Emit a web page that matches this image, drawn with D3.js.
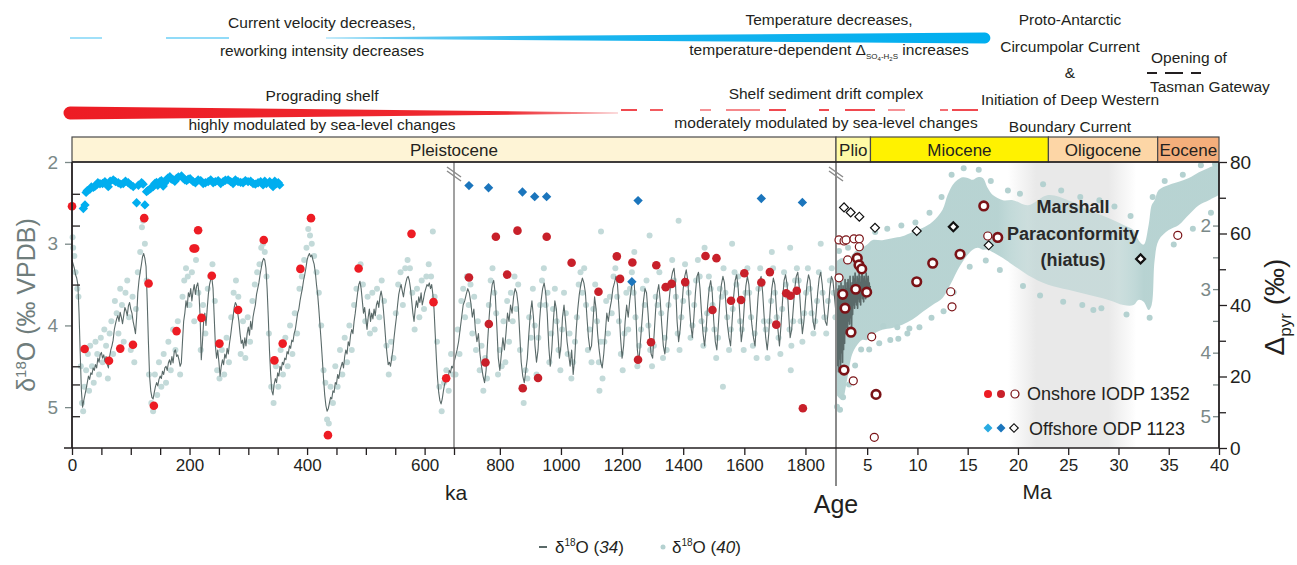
<!DOCTYPE html>
<html lang="en">
<head>
<meta charset="UTF-8">
<title>d18O and pyrite sulfur isotope record</title>
<script src="https://d3js.org/d3.v7.min.js"></script>
<style>
  body { margin: 0; background: #fff; }
  svg text { font-family: Arial, "Liberation Sans", Helvetica, sans-serif; }
</style>
</head>
<body>
<svg id="chart" width="1297" height="565"></svg>
<script>
// ---------- data ----------
// benthic d18O stack (34), 0-650 ka  [ka, permil]
const lineKaA = [[0,3.20],[2,3.25],[4,3.30],[6,3.38],[8,3.42],[10,3.50],[12,3.85],[14,4.35],[16,4.80],[18,5.00],[20,4.92],[22,4.85],[24,4.78],[26,4.70],[28,4.62],[30,4.66],[32,4.58],[34,4.60],[36,4.52],[38,4.55],[40,4.48],[42,4.52],[44,4.40],[46,4.45],[48,4.36],[50,4.33],[52,4.40],[54,4.36],[56,4.44],[58,4.38],[60,4.48],[62,4.52],[64,4.38],[66,4.30],[68,4.25],[70,4.18],[72,4.05],[74,3.98],[76,3.92],[78,3.88],[80,3.95],[82,3.84],[84,3.90],[86,3.98],[88,3.88],[90,3.78],[92,3.82],[94,3.88],[96,3.76],[98,3.72],[100,3.80],[102,3.85],[104,3.95],[106,4.02],[108,4.10],[110,3.90],[112,3.60],[114,3.45],[116,3.35],[118,3.26],[120,3.16],[122,3.12],[124,3.18],[126,3.28],[128,3.70],[130,4.20],[132,4.62],[134,4.80],[136,4.88],[138,4.90],[140,4.82],[142,4.75],[144,4.70],[146,4.74],[148,4.66],[150,4.62],[152,4.65],[154,4.56],[156,4.60],[158,4.52],[160,4.50],[162,4.55],[164,4.46],[166,4.42],[168,4.48],[170,4.38],[172,4.46],[174,4.32],[176,4.30],[178,4.38],[180,4.36],[182,4.42],[184,4.50],[186,4.46],[188,4.20],[190,3.95],[192,3.85],[194,3.70],[196,3.78],[198,3.60],[200,3.65],[202,3.55],[204,3.70],[206,3.58],[208,3.50],[210,3.62],[212,3.52],[214,3.48],[216,3.60],[218,3.90],[220,4.42],[222,4.20],[224,3.95],[226,3.85],[228,4.00],[230,3.80],[232,3.62],[234,3.50],[236,3.44],[238,3.42],[240,3.55],[242,3.90],[244,4.25],[246,4.40],[248,4.30],[250,4.45],[252,4.62],[254,4.50],[256,4.42],[258,4.48],[260,4.35],[262,4.40],[264,4.28],[266,4.35],[268,4.22],[270,4.12],[272,4.00],[274,3.90],[276,3.78],[278,3.72],[280,3.75],[282,3.85],[284,3.95],[286,4.10],[288,4.22],[290,4.18],[292,4.28],[294,4.15],[296,4.25],[298,4.10],[300,4.02],[302,4.12],[304,3.95],[306,4.05],[308,3.90],[310,3.82],[312,3.75],[314,3.62],[316,3.55],[318,3.48],[320,3.38],[322,3.30],[324,3.22],[326,3.18],[328,3.20],[330,3.30],[332,3.55],[334,3.90],[336,4.30],[338,4.60],[340,4.80],[342,4.85],[344,4.72],[346,4.65],[348,4.70],[350,4.58],[352,4.62],[354,4.50],[356,4.55],[358,4.45],[360,4.48],[362,4.40],[364,4.42],[366,4.32],[368,4.35],[370,4.25],[372,4.28],[374,4.18],[376,4.20],[378,4.10],[380,4.05],[382,3.95],[384,3.85],[386,3.80],[388,3.70],[390,3.62],[392,3.55],[394,3.45],[396,3.38],[398,3.30],[400,3.20],[402,3.15],[404,3.12],[406,3.16],[408,3.14],[410,3.20],[412,3.25],[414,3.35],[416,3.50],[418,3.62],[420,3.80],[422,4.00],[424,4.20],[426,4.42],[428,4.65],[430,4.85],[432,4.98],[434,5.05],[436,5.02],[438,4.95],[440,4.88],[442,4.90],[444,4.80],[446,4.82],[448,4.70],[450,4.72],[452,4.60],[454,4.65],[456,4.55],[458,4.50],[460,4.45],[462,4.52],[464,4.38],[466,4.30],[468,4.35],[470,4.20],[472,4.25],[474,4.12],[476,4.05],[478,4.10],[480,3.95],[482,3.85],[484,3.72],[486,3.60],[488,3.50],[490,3.46],[492,3.55],[494,3.70],[496,3.85],[498,3.78],[500,3.92],[502,4.05],[504,3.90],[506,3.80],[508,3.95],[510,3.85],[512,3.92],[514,3.80],[516,3.88],[518,3.75],[520,3.70],[522,3.78],[524,3.65],[526,3.58],[528,3.66],[530,3.82],[532,4.00],[534,4.20],[536,4.35],[538,4.48],[540,4.45],[542,4.50],[544,4.40],[546,4.30],[548,4.15],[550,4.02],[552,3.90],[554,3.75],[556,3.62],[558,3.55],[560,3.50],[562,3.58],[564,3.65],[566,3.55],[568,3.48],[570,3.42],[572,3.40],[574,3.45],[576,3.55],[578,3.70],[580,3.85],[582,3.95],[584,3.80],[586,3.70],[588,3.78],[590,3.65],[592,3.72],[594,3.60],[596,3.75],[598,3.68],[600,3.60],[602,3.55],[604,3.50],[606,3.52],[608,3.48],[610,3.55],[612,3.50],[614,3.62],[616,3.80],[618,4.10],[620,4.40],[622,4.65],[624,4.82],[626,4.92],[628,4.96],[630,4.90],[632,4.80],[634,4.72],[636,4.68],[638,4.60],[640,4.65],[642,4.55],[644,4.58],[646,4.50],[648,4.52],[650,4.45]];

// benthic d18O stack (34), 650-1900 ka
const lineKaB = [[650,4.45],[655,4.38],[660,4.30],[665,4.20],[670,4.05],[675,3.90],[680,3.75],[685,3.70],[690,3.62],[695,3.55],[700,3.60],[705,3.72],[710,3.90],[715,3.80],[720,4.05],[725,4.20],[730,4.10],[735,4.35],[740,4.50],[745,4.62],[750,4.70],[755,4.55],[760,4.20],[765,3.90],[770,3.65],[775,3.50],[780,3.45],[785,3.62],[790,4.00],[795,4.40],[800,4.55],[805,4.35],[810,4.15],[815,4.30],[820,4.10],[825,3.85],[830,3.95],[835,3.75],[840,3.85],[845,3.65],[850,3.55],[855,3.60],[860,3.75],[865,4.10],[870,4.45],[875,4.62],[880,4.70],[885,4.55],[890,4.40],[895,4.10],[900,3.85],[905,3.70],[910,3.90],[915,4.25],[920,4.45],[925,4.30],[930,3.95],[935,3.70],[940,3.55],[945,3.48],[950,3.60],[955,3.85],[960,4.25],[965,4.50],[970,4.30],[975,3.95],[980,3.70],[985,3.80],[990,4.10],[995,4.40],[1000,4.25],[1005,3.90],[1010,3.75],[1015,3.95],[1020,4.20],[1025,4.35],[1030,4.50],[1035,4.30],[1040,4.60],[1045,4.40],[1050,4.05],[1055,3.80],[1060,3.62],[1065,3.50],[1070,3.42],[1075,3.48],[1080,3.60],[1085,3.90],[1090,4.15],[1095,4.30],[1100,4.25],[1105,3.95],[1110,3.65],[1115,3.80],[1120,4.10],[1125,4.30],[1130,4.45],[1135,4.52],[1140,4.35],[1145,4.10],[1150,3.85],[1155,3.95],[1160,3.80],[1165,3.70],[1170,3.55],[1175,3.48],[1180,3.40],[1185,3.50],[1190,3.80],[1195,4.15],[1200,4.40],[1205,4.25],[1210,3.95],[1215,3.75],[1220,3.90],[1225,3.70],[1230,3.55],[1235,3.45],[1240,3.50],[1245,3.85],[1250,4.30],[1255,4.45],[1260,4.20],[1265,3.95],[1270,3.70],[1275,3.55],[1280,3.60],[1285,3.85],[1290,4.15],[1295,4.35],[1300,4.40],[1305,4.10],[1310,3.80],[1315,3.60],[1320,3.50],[1325,3.70],[1330,4.00],[1335,4.25],[1340,4.35],[1345,4.15],[1350,3.85],[1355,3.65],[1360,3.45],[1365,3.35],[1370,3.30],[1375,3.50],[1380,3.95],[1385,4.20],[1390,4.05],[1395,3.80],[1400,3.55],[1405,3.40],[1410,3.32],[1415,3.45],[1420,3.75],[1425,4.00],[1430,4.15],[1435,3.90],[1440,3.60],[1445,3.40],[1450,3.35],[1455,3.55],[1460,3.85],[1465,4.10],[1470,4.25],[1475,4.05],[1480,3.75],[1485,3.55],[1490,3.45],[1495,3.60],[1500,3.95],[1505,4.20],[1510,4.30],[1515,4.00],[1520,3.70],[1525,3.50],[1530,3.40],[1535,3.48],[1540,3.75],[1545,4.00],[1550,4.15],[1555,4.25],[1560,3.95],[1565,3.65],[1570,3.45],[1575,3.38],[1580,3.55],[1585,3.85],[1590,4.20],[1595,4.05],[1600,3.75],[1605,3.52],[1610,3.40],[1615,3.50],[1620,3.80],[1625,4.00],[1630,4.15],[1635,4.25],[1640,3.95],[1645,3.65],[1650,3.45],[1655,3.40],[1660,3.60],[1665,3.90],[1670,4.15],[1675,4.30],[1680,4.10],[1685,3.80],[1690,3.55],[1695,3.42],[1700,3.50],[1705,3.80],[1710,4.05],[1715,4.25],[1720,4.00],[1725,3.70],[1730,3.45],[1735,3.38],[1740,3.50],[1745,3.85],[1750,4.15],[1755,4.05],[1760,3.80],[1765,3.55],[1770,3.40],[1775,3.35],[1780,3.55],[1785,3.85],[1790,4.10],[1795,3.95],[1800,3.70],[1805,3.50],[1810,3.38],[1815,3.45],[1820,3.70],[1825,3.95],[1830,4.05],[1835,3.85],[1840,3.60],[1845,3.42],[1850,3.35],[1855,3.50],[1860,3.75],[1865,3.95],[1870,4.00],[1875,3.80],[1880,3.55],[1885,3.40],[1890,3.45],[1895,3.65],[1900,3.85]];

// stack (34) continued, 1.9-5.3 Ma, plotted on the Ma d18O scale
const lineMa = [[1.90,3.40],[1.95,4.05],[2.00,3.10],[2.05,4.20],[2.10,3.00],[2.15,4.30],[2.20,2.95],[2.25,4.10],[2.30,3.05],[2.35,4.25],[2.40,2.90],[2.45,4.00],[2.50,3.10],[2.55,4.15],[2.60,2.95],[2.65,3.95],[2.70,3.05],[2.75,3.85],[2.80,2.85],[2.85,3.70],[2.90,3.00],[2.95,3.60],[3.00,2.90],[3.05,3.65],[3.10,2.85],[3.15,3.50],[3.20,3.00],[3.25,3.55],[3.30,2.80],[3.35,3.45],[3.40,2.95],[3.45,3.60],[3.50,2.90],[3.55,3.40],[3.60,2.80],[3.65,3.25],[3.70,2.85],[3.75,3.30],[3.80,2.75],[3.85,3.20],[3.90,2.90],[3.95,3.25],[4.00,2.80],[4.05,3.30],[4.10,2.85],[4.15,3.15],[4.20,2.75],[4.25,3.20],[4.30,2.90],[4.35,3.25],[4.40,2.80],[4.45,3.10],[4.50,2.70],[4.55,3.15],[4.60,2.85],[4.65,3.20],[4.70,2.80],[4.75,3.10],[4.80,2.90],[4.85,3.15],[4.90,2.75],[4.95,3.05],[5.00,2.85],[5.05,3.10],[5.10,2.80],[5.15,3.00],[5.20,2.90],[5.25,3.05],[5.30,2.95]];

// d18O compilation (40), scattered samples 0-650 ka
const dotsKaA = [[1,2.92],[2,3.05],[4,3.15],[6,3.35],[9,3.55],[11,3.65],[15,4.5],[17,4.95],[19,5.05],[21,4.75],[24,4.55],[27,4.35],[29,4.8],[31,4.25],[34,4.5],[37,4.7],[40,4.2],[43,4.35],[46,4.6],[49,4.15],[52,4.45],[55,4.05],[58,4.25],[61,4.65],[64,4.1],[67,3.95],[70,4.35],[73,3.7],[76,3.85],[79,4.1],[82,3.55],[85,3.75],[88,4.2],[91,3.6],[94,3.45],[97,3.9],[100,4.3],[103,3.65],[106,4.45],[109,3.8],[112,3.35],[116,3.1],[119,2.8],[121,2.72],[124,3.0],[127,3.45],[131,4.6],[135,4.95],[138,5.05],[141,4.6],[145,4.85],[148,4.45],[152,4.75],[156,4.35],[160,4.7],[164,4.2],[168,4.55],[172,4.05],[176,4.3],[180,3.95],[184,4.6],[188,3.65],[191,3.45],[194,3.3],[197,3.4],[200,3.75],[204,3.35],[208,3.95],[211,3.2],[215,3.6],[219,4.3],[223,3.75],[227,4.1],[231,3.55],[235,3.4],[239,3.25],[243,3.7],[247,4.55],[251,4.65],[255,4.3],[259,4.6],[263,4.15],[267,4.45],[271,3.9],[275,3.6],[279,3.45],[283,3.65],[287,4.35],[291,3.95],[295,4.4],[299,3.9],[303,4.2],[307,3.7],[311,3.5],[315,3.35],[319,3.25],[322,3.05],[325,3.0],[328,3.1],[331,3.4],[335,4.1],[339,4.75],[343,4.95],[347,4.5],[351,4.75],[355,4.3],[359,4.6],[363,4.15],[367,4.5],[371,4.0],[375,4.35],[379,3.85],[383,4.1],[387,3.55],[391,3.4],[395,3.2],[399,3.05],[402,2.82],[405,2.9],[408,3.0],[412,3.15],[416,3.35],[420,3.6],[424,4.0],[428,4.55],[431,4.7],[434,5.15],[437,5.2],[440,4.75],[444,4.95],[448,4.5],[452,4.75],[456,4.3],[460,4.6],[464,4.15],[468,4.45],[472,4.0],[476,4.3],[480,3.75],[484,3.55],[488,3.3],[491,3.25],[495,3.5],[499,3.95],[503,3.65],[507,4.1],[511,3.6],[515,4.05],[519,3.55],[523,3.9],[527,3.45],[531,3.7],[535,4.25],[539,4.6],[543,4.2],[547,4.4],[551,3.85],[555,3.5],[559,3.35],[563,3.75],[567,3.3],[571,3.2],[575,3.3],[579,3.6],[583,4.05],[587,3.55],[591,3.9],[595,3.45],[599,3.8],[603,3.4],[607,3.25],[611,3.4],[614,2.85],[617,3.65],[621,4.2],[625,4.75],[629,5.05],[633,4.7],[637,4.55],[641,4.8],[645,4.35],[649,4.6]];

// d18O compilation (40), 650-1900 ka
const dotsKaB = [[655,4.6],[662,4.05],[668,4.35],[674,3.7],[680,3.55],[686,3.9],[692,3.4],[698,3.75],[704,3.5],[710,4.1],[716,3.65],[722,4.3],[728,3.95],[734,4.55],[740,4.25],[746,4.8],[752,4.4],[758,4.65],[764,3.75],[770,3.45],[776,3.3],[782,3.6],[788,3.85],[794,4.6],[800,4.3],[806,4.5],[812,3.95],[818,4.45],[824,3.7],[830,4.2],[836,3.6],[842,3.95],[848,3.4],[854,3.8],[860,3.5],[866,4.3],[872,4.75],[878,4.95],[884,4.55],[890,4.65],[896,3.9],[902,4.15],[908,3.55],[914,4.0],[920,4.6],[926,4.15],[932,3.75],[938,3.45],[944,3.3],[950,3.75],[956,3.6],[962,4.45],[968,4.1],[974,3.8],[980,3.55],[986,3.95],[992,4.3],[998,4.55],[1004,4.05],[1010,3.6],[1016,3.85],[1022,4.35],[1028,4.1],[1034,4.65],[1040,4.45],[1046,4.2],[1052,3.9],[1058,3.5],[1064,3.35],[1070,3.6],[1076,3.3],[1082,3.75],[1088,4.3],[1094,4.05],[1100,4.45],[1106,3.8],[1112,3.5],[1118,3.95],[1124,4.45],[1126,4.8],[1130,4.2],[1131,2.85],[1136,4.65],[1142,4.2],[1148,3.7],[1154,4.1],[1160,3.65],[1166,3.85],[1172,3.4],[1178,3.3],[1184,3.65],[1190,3.95],[1196,4.35],[1202,4.55],[1208,4.1],[1214,3.6],[1220,4.05],[1226,3.55],[1232,3.35],[1238,3.6],[1240,3.1],[1244,3.9],[1250,4.5],[1256,4.25],[1262,4.05],[1268,3.55],[1274,3.75],[1280,3.45],[1286,4.0],[1290,2.9],[1292,4.3],[1298,4.5],[1304,4.25],[1310,3.65],[1316,3.75],[1322,3.35],[1328,3.85],[1334,4.4],[1340,4.15],[1346,4.3],[1352,3.75],[1358,3.5],[1364,3.2],[1370,3.45],[1376,3.65],[1382,4.1],[1385,2.72],[1388,4.3],[1394,3.9],[1400,3.7],[1406,3.25],[1412,3.5],[1418,3.6],[1424,4.15],[1430,4.0],[1436,3.75],[1442,3.45],[1448,3.2],[1454,3.4],[1460,3.95],[1466,4.25],[1470,3.05],[1472,4.05],[1478,3.85],[1484,3.4],[1490,3.55],[1496,3.75],[1502,4.05],[1508,4.4],[1514,4.15],[1520,3.55],[1526,3.65],[1530,4.75],[1532,3.3],[1538,3.6],[1544,3.9],[1550,4.3],[1556,4.05],[1560,3.0],[1562,3.8],[1568,3.35],[1574,3.5],[1580,3.4],[1586,3.95],[1592,4.05],[1598,4.3],[1604,3.6],[1610,3.3],[1616,3.6],[1622,3.9],[1628,4.25],[1634,4.1],[1640,4.4],[1646,3.55],[1652,3.3],[1658,3.5],[1664,3.95],[1670,4.05],[1676,4.4],[1682,3.95],[1688,3.7],[1690,3.1],[1694,3.3],[1700,3.6],[1706,3.9],[1712,4.15],[1718,4.35],[1724,3.8],[1730,3.35],[1736,3.5],[1742,3.65],[1748,4.05],[1750,3.05],[1752,4.55],[1754,4.25],[1760,3.95],[1766,3.45],[1772,3.3],[1778,3.45],[1784,3.95],[1790,4.2],[1796,3.85],[1802,3.6],[1808,3.3],[1814,3.55],[1820,3.85],[1826,4.1],[1832,3.95],[1838,3.7],[1844,3.35],[1850,3.0],[1856,3.6],[1862,3.9],[1868,4.1],[1874,3.7],[1880,3.45],[1886,3.3],[1892,3.6],[1898,3.9]];

// d18O compilation (40), 1.9-40 Ma: envelope of the dense cloud [Ma, upper, lower]
const cloudMa = [[1.9,2.57,4.66],[2.5,2.51,4.74],[3.0,2.57,4.43],[3.5,2.46,4.03],[4.0,2.38,3.88],[4.5,2.35,3.80],[5.0,2.30,3.80],[5.5,2.23,3.72],[6.5,2.23,3.64],[7.5,2.20,3.61],[8.5,2.17,3.56],[9.5,2.10,3.48],[10.5,2.04,3.36],[11.5,1.94,3.25],[12.5,1.75,3.14],[13.0,1.52,3.01],[13.5,1.36,2.86],[14.0,1.28,2.70],[14.5,1.24,2.57],[15.0,1.25,2.46],[15.5,1.28,2.38],[16.0,1.24,2.35],[16.5,1.25,2.38],[17.0,1.41,2.38],[17.5,1.52,2.42],[18.5,1.60,2.51],[19.5,1.60,2.62],[21.0,1.68,2.78],[23.0,1.52,2.93],[25.0,1.60,3.01],[27.0,1.75,3.09],[29.0,1.88,3.17],[30.5,1.99,3.25],[31.5,2.07,3.25],[32.0,2.23,3.17],[32.5,2.30,3.20],[33.0,1.99,3.33],[33.3,1.68,3.25],[33.6,1.60,2.54],[34.0,1.44,2.23],[35.0,1.36,2.07],[36.0,1.31,1.99],[37.0,1.25,1.83],[38.0,1.16,1.68],[39.0,1.09,1.60],[40.0,1.02,1.52]];
// loose samples around the cloud edges [Ma, permil]
const dotsMa = [[2.0,4.85],[2.3,4.9],[2.6,4.7],[3.2,4.5],[3.8,4.2],[4.4,3.95],[5.2,3.95],[6.2,3.85],[7.3,3.8],[8.1,3.78],[9.0,3.7],[10.2,3.6],[11.4,3.45],[12.6,3.35],[13.6,3.05],[15.2,2.65],[16.8,2.55],[18.2,2.7],[20.5,2.95],[22.2,3.1],[24.5,3.2],[26.4,3.25],[28.3,3.3],[30.8,3.4],[33.1,3.45],[35.5,2.3],[37.4,2.05],[39.2,1.8],[2.2,2.4],[3.1,2.35],[4.3,2.2],[5.8,2.1],[7.0,2.05],[8.4,2.0],[9.8,1.95],[11.2,1.8],[12.4,1.55],[13.4,1.2],[14.6,1.1],[16.1,1.12],[17.3,1.3],[19.0,1.45],[20.2,1.5],[22.5,1.35],[24.3,1.45],[26.2,1.55],[28.1,1.6],[29.6,1.7],[31.2,1.85],[33.4,1.55],[34.6,1.3],[36.4,1.2],[38.2,1.05],[39.6,1.03],[8.0,3.6],[9.2,3.62],[6.6,3.58],[27.5,3.33]];

// Onshore IODP 1352 pyrite D (permil)
const redKaA = [[0,67.6],[21.5,27.7],[62.9,24.4],[82.1,27.8],[103.7,28.9],[122.9,64.3],[130.3,46.0],[139.3,11.8],[177.9,32.7],[206.8,55.8],[209.6,55.8],[214.6,60.9],[220.3,36.4],[237.9,48.2],[250.9,29.2],[282.6,38.6],[326.3,58.2],[344.4,24.5],[358.5,29.2],[388.6,50.1],[406.7,64.3],[435.5,3.6],[487.7,50.2],[577.7,59.9],[615.1,40.8],[636.7,19.5]];
const redKaB = [[699,47.7],[753,23.9],[764,34.7],[787,59.1],[824,48.5],[857.7,60.8],[875,16.7],[925,19.6],[953.3,59.1],[1034.8,51.8],[1122.8,43.7],[1182.8,53.6],[1193.5,47.3],[1233.7,51.9],[1252.2,24.7],[1294.6,29.6],[1312,51.1],[1342.6,45],[1362.1,45.9],[1406.5,46.4],[1473,53.7],[1495.8,38.6],[1508.8,53.1],[1556.5,41.2],[1589.1,41.4],[1600,48.9],[1655.6,46.3],[1683.6,49.2],[1704.5,34.5],[1737,43.3],[1751,42.6],[1771.7,44],[1791.6,11.1]];
// [Ma, permil, bold ring]
const circMa = [[2.20,58.2,0],[2.70,57.9,0],[2.90,58.2,0],[3.69,58.5,0],[4.22,58.5,0],[4.22,56.3,0],[3.06,52.6,0],[4.02,53.1,1],[4.19,51.2,1],[4.46,50.1,1],[2.20,47.6,0],[2.57,43.0,1],[3.86,44.4,1],[4.95,43.6,1],[2.80,39.1,1],[3.39,32.4,1],[5.45,31.1,0],[2.70,21.8,1],[3.62,18.8,0],[5.88,15.0,1],[5.71,3.0,0],[9.93,46.5,1],[11.52,51.7,1],[14.24,54.2,1],[13.31,43.7,0],[13.44,39.5,0],[16.60,67.7,1],[17.0,59.3,0],[17.99,58.9,1],[35.9,59.5,0]];

// Offshore ODP 1123 pyrite D (permil)
const diaKaA = [[19.3,67.0],[22.1,68.0],[24,71.5],[26,72.0],[30.6,72.4],[33,73.0],[36.3,72.9],[39,73.2],[41.9,73.6],[44,74.2],[47.6,73.9],[52,74.0],[56,74.5],[61.7,73.1],[65,74.6],[70.2,75.0],[74,74.5],[78.7,74.2],[83,73.8],[87.2,74.0],[91,74.6],[95.7,74.2],[100,73.6],[104.2,73.1],[109.9,68.6],[113,73.5],[118.4,74.2],[121,73.8],[124,68.0],[126.9,71.7],[129,72.0],[132.5,72.4],[135,72.8],[138.2,73.1],[141,74.0],[143.8,74.3],[146,73.5],[149.5,74.5],[152,74.8],[155.2,73.3],[158,74.2],[160.9,75.0],[163,75.5],[166.5,75.9],[169,75.2],[172.2,75.0],[175,74.6],[177.8,75.4],[181,75.8],[186.3,76.1],[189,75.5],[192,75.0],[195,74.8],[197.7,75.2],[201,75.3],[206.2,74.5],[210,74.2],[214.7,75.0],[219,74.8],[223.2,74.0],[227,74.2],[231.7,74.5],[236,75.0],[240.2,74.2],[244,74.5],[248.7,74.8],[253,74.0],[257.2,74.5],[261,74.9],[265.7,75.0],[270,74.5],[274.1,74.0],[278,75.0],[282.6,74.5],[287,74.3],[291.1,74.2],[295,74.8],[299.6,74.5],[304,74.6],[308.1,74.0],[312,73.8],[316.6,74.2],[321,74.5],[325.1,73.6],[328,74.6],[330.8,74.0],[336.4,74.5],[339,73.8],[342.1,73.1],[345,74.6],[347.8,74.0],[351,74.2],[353.4,73.6]];
const diaKaB = [[699,73.4],[763,72.8],[874,71.6],[914,70.3],[953,70.3],[1232,46.5],[1252.3,69.2],[1655.6,69.8],[1790,68.7]];
const diaMa = [[2.70,67.3,0],[3.36,65.9,0],[4.22,64.7,0],[5.78,61.6,0],[9.93,60.7,0],[13.57,61.9,1],[17.09,56.7,0],[32.2,52.9,1]];

// epochs (Ma) and axis ticks
const epochNames = ["Pleistocene", "Plio", "Miocene", "Oligocene", "Eocene"];
const epochEdges = [0, 1.9, 5.33, 23.03, 33.9, 40];
const epochColors = ["#fef4d6", "#fffaa6", "#fff200", "#fdd6a6", "#f4ae7b"];
const hiatusMa = [19, 31.8];
const kaTicksA = [0, 50, 100, 150, 200, 250, 300, 350, 400, 450, 500, 550, 600, 650];
const kaLabelsA = [0, 200, 400, 600];
const kaTicksB = [800, 1000, 1200, 1400, 1600, 1800];
const maTicks = [5, 10, 15, 20, 25, 30, 35, 40];
const d18Ticks = [2, 3, 4, 5];
const d18MinorMa = [2.5, 3.5, 4.5];
const pyrTicks = [0, 20, 40, 60, 80];
const pyrMinor = [10, 30, 50, 70];

// ---------- scales ----------
const svg = d3.select("#chart");
const INK = "#231f20", GREY = "#7b8988", LINE = "#5a6a69", TEAL = "#b4d1d0";

const xKa1 = d3.scaleLinear().domain([0, 650]).range([72, 454]);
const xKa2 = d3.scaleLinear().domain([650, 1900]).range([454, 836]);
const xMa = d3.scaleLinear().domain([1.9, 40]).range([836, 1219]);
const yKa = d3.scaleLinear().domain([2, 5.5]).range([162, 448]);
const yMa = d3.scaleLinear().domain([1, 5.5]).range([162, 448]);
const yPyr = d3.scaleLinear().domain([0, 80]).range([448, 162]);
const ageX = ma => ma * 1000 <= 650 ? xKa1(ma * 1000) : (ma <= 1.9 ? xKa2(ma * 1000) : xMa(ma));
const plain = d => String(d);

// ---------- defs ----------
const defs = svg.append("defs");
const hg = defs.append("linearGradient").attr("id", "hiatus")
  .attr("gradientUnits", "userSpaceOnUse")
  .attr("x1", xMa(hiatusMa[0])).attr("x2", xMa(hiatusMa[1])).attr("y1", 0).attr("y2", 0);
[[0, 0], [0.22, 1], [0.78, 1], [1, 0]].forEach(([o, a]) =>
  hg.append("stop").attr("offset", o).attr("stop-color", "#e9e9e9").attr("stop-opacity", a));
// cloud is thinner inside the hiatus
const cg = defs.append("linearGradient").attr("id", "cloud")
  .attr("gradientUnits", "userSpaceOnUse")
  .attr("x1", xMa(1.9)).attr("x2", xMa(40)).attr("y1", 0).attr("y2", 0);
[[1.9, 0.95], [18, 0.95], [21, 0.6], [30, 0.6], [32.5, 0.95], [40, 0.95]].forEach(([m, a]) =>
  cg.append("stop").attr("offset", (m - 1.9) / 38.1).attr("stop-color", TEAL).attr("stop-opacity", a));
const rg = defs.append("linearGradient").attr("id", "redw").attr("x1", 0).attr("x2", 1).attr("y1", 0).attr("y2", 0);
[[0, "#ed1c24"], [0.8, "#ee2a31"], [1, "#f8b9bb"]].forEach(([o, c]) => rg.append("stop").attr("offset", o).attr("stop-color", c));
const bg = defs.append("linearGradient").attr("id", "bluew").attr("x1", 0).attr("x2", 1).attr("y1", 0).attr("y2", 0);
[[0, "#8fd8f5"], [0.35, "#1db5ee"], [1, "#00aeef"]].forEach(([o, c]) => bg.append("stop").attr("offset", o).attr("stop-color", c));

// ---------- hiatus band ----------
svg.append("rect").attr("x", xMa(hiatusMa[0])).attr("y", 162)
  .attr("width", xMa(hiatusMa[1]) - xMa(hiatusMa[0])).attr("height", 286).attr("fill", "url(#hiatus)");

// ---------- d18O compilation (40) ----------
svg.append("path").datum(cloudMa)
  .attr("d", d3.area().x(d => xMa(d[0])).y0(d => yMa(d[2])).y1(d => yMa(d[1])).curve(d3.curveCatmullRom))
  .attr("fill", "url(#cloud)");
const dots = svg.append("g").attr("fill", "#c3dad9");
dots.selectAll(".da").data(dotsKaA).join("circle").attr("class", "da").attr("cx", d => xKa1(d[0])).attr("cy", d => yKa(d[1])).attr("r", 3);
dots.selectAll(".db").data(dotsKaB).join("circle").attr("class", "db").attr("cx", d => xKa2(d[0])).attr("cy", d => yKa(d[1])).attr("r", 3);
svg.append("g").attr("fill", TEAL).selectAll("circle").data(dotsMa).join("circle")
  .attr("cx", d => xMa(d[0])).attr("cy", d => yMa(d[1])).attr("r", 3);

// ---------- d18O stack (34) ----------
const lines = svg.append("g").attr("fill", "none").attr("stroke", LINE).attr("stroke-width", 1.1).attr("stroke-linejoin", "round");
lines.append("path").datum(lineKaA).attr("d", d3.line().x(d => xKa1(d[0])).y(d => yKa(d[1])));
lines.append("path").datum(lineKaB).attr("d", d3.line().x(d => xKa2(d[0])).y(d => yKa(d[1])));
lines.append("path").datum(lineMa).attr("d", d3.line().x(d => xMa(d[0])).y(d => yMa(d[1]))).attr("stroke-width", 1.7);

// ---------- axis breaks ----------
svg.append("line").attr("x1", 454).attr("x2", 454).attr("y1", 162).attr("y2", 448).attr("stroke", "#8a8a8a").attr("stroke-width", 1.6);
svg.append("line").attr("x1", 836).attr("x2", 836).attr("y1", 162).attr("y2", 486).attr("stroke", "#8a8a8a").attr("stroke-width", 2);
[454, 836].forEach(x => {
  [0, 4].forEach(o => svg.append("line").attr("x1", x - 7).attr("y1", 167 + o).attr("x2", x + 7).attr("y2", 177 + o)
    .attr("stroke", "#8a8a8a").attr("stroke-width", 1.5));
});

// ---------- pyrite symbols ----------
const sq = d3.symbol(d3.symbolSquare, 44);
const sym = svg.append("g");
sym.selectAll(".la").data(diaKaA).join("path").attr("class", "la").attr("d", sq)
  .attr("transform", d => `translate(${xKa1(d[0])},${yPyr(d[1])}) rotate(45)`).attr("fill", "#00aeef");
sym.selectAll(".lb").data(diaKaB).join("path").attr("class", "lb").attr("d", sq)
  .attr("transform", d => `translate(${xKa2(d[0])},${yPyr(d[1])}) rotate(45)`).attr("fill", "#1b75bc");
sym.selectAll(".lm").data(diaMa).join("path").attr("class", "lm").attr("d", d3.symbol(d3.symbolSquare, 40))
  .attr("transform", d => `translate(${xMa(d[0])},${yPyr(d[1])}) rotate(45)`)
  .attr("fill", "#fff").attr("stroke", "#111").attr("stroke-width", d => d[2] ? 2.2 : 1.2);
sym.selectAll(".ra").data(redKaA).join("circle").attr("class", "ra")
  .attr("cx", d => xKa1(d[0])).attr("cy", d => yPyr(d[1])).attr("r", 4.3).attr("fill", "#ed1c24");
sym.selectAll(".rb").data(redKaB).join("circle").attr("class", "rb")
  .attr("cx", d => xKa2(d[0])).attr("cy", d => yPyr(d[1])).attr("r", 4.3).attr("fill", "#c8202a");
sym.selectAll(".rm").data(circMa).join("circle").attr("class", "rm")
  .attr("cx", d => xMa(d[0])).attr("cy", d => yPyr(d[1])).attr("r", d => d[2] ? 4.3 : 4)
  .attr("fill", "#fff").attr("stroke", "#7a1216").attr("stroke-width", d => d[2] ? 2.6 : 1.2);

// ---------- axes ----------
function styleAxis(g, color, size) {
  g.select(".domain").remove();
  g.attr("font-size", size).attr("font-family", null);
  g.selectAll("line").attr("stroke", color).attr("stroke-width", 1.3);
  g.selectAll("text").attr("fill", color);
}
svg.append("g").attr("transform", "translate(0,448)")
  .call(d3.axisBottom(xKa1).tickValues(kaTicksA).tickSize(7).tickPadding(4).tickFormat(d => kaLabelsA.includes(d) ? plain(d) : ""))
  .call(g => styleAxis(g, INK, 17));
svg.append("g").attr("transform", "translate(0,448)")
  .call(d3.axisBottom(xKa2).tickValues(kaTicksB).tickSize(7).tickPadding(4).tickFormat(plain))
  .call(g => styleAxis(g, INK, 17));
svg.append("g").attr("transform", "translate(0,448)")
  .call(d3.axisBottom(xMa).tickValues(maTicks).tickSize(7).tickPadding(4).tickFormat(plain))
  .call(g => styleAxis(g, INK, 17));
svg.append("line").attr("x1", 64).attr("x2", 1219).attr("y1", 448).attr("y2", 448).attr("stroke", INK).attr("stroke-width", 1.6);

// left d18O axis (ka scale, gray labels) plus inner black ticks
svg.append("g").attr("transform", "translate(72,0)")
  .call(d3.axisLeft(yKa).tickValues(d18Ticks).tickSize(7).tickPadding(7).tickFormat(plain))
  .call(g => styleAxis(g, GREY, 19));
svg.append("g").attr("transform", "translate(72,0)")
  .call(d3.axisRight(yMa).tickValues([1.5, 2, 4.5, 5]).tickSize(8).tickFormat(""))
  .call(g => styleAxis(g, INK, 10));
svg.append("g").attr("transform", "translate(72,0)")
  .call(d3.axisRight(yKa).tickValues([3.5, 4.5]).tickSize(8).tickFormat(""))
  .call(g => styleAxis(g, INK, 10));
svg.append("line").attr("x1", 72).attr("x2", 72).attr("y1", 162).attr("y2", 448).attr("stroke", INK).attr("stroke-width", 1.8);

// right axes: D pyr (black) and Ma d18O scale (gray)
svg.append("g").attr("transform", "translate(1219,0)")
  .call(d3.axisRight(yPyr).tickValues(pyrTicks).tickSize(8).tickPadding(3).tickFormat(plain))
  .call(g => styleAxis(g, INK, 19));
svg.append("g").attr("transform", "translate(1219,0)")
  .call(d3.axisRight(yPyr).tickValues(pyrMinor).tickSize(7).tickFormat(""))
  .call(g => styleAxis(g, INK, 10));
svg.append("g").attr("transform", "translate(1219,0)")
  .call(d3.axisLeft(yMa).tickValues(d18Ticks).tickSize(6).tickPadding(2).tickFormat(plain))
  .call(g => styleAxis(g, GREY, 19));
svg.append("g").attr("transform", "translate(1219,0)")
  .call(d3.axisLeft(yMa).tickValues(d18MinorMa).tickSize(6).tickFormat(""))
  .call(g => styleAxis(g, GREY, 10));
svg.append("line").attr("x1", 1219).attr("x2", 1219).attr("y1", 162).attr("y2", 448).attr("stroke", INK).attr("stroke-width", 1.8);

// ---------- epoch bar ----------
const eb = svg.append("g");
epochNames.forEach((n, i) => {
  const x0 = ageX(epochEdges[i]), x1 = ageX(epochEdges[i + 1]);
  eb.append("rect").attr("x", x0).attr("y", 137).attr("width", x1 - x0).attr("height", 25)
    .attr("fill", epochColors[i]).attr("stroke", "#4a4a4a").attr("stroke-width", 1.2);
  eb.append("text").attr("x", (x0 + x1) / 2).attr("y", 156).attr("text-anchor", "middle")
    .attr("font-size", 17).attr("fill", INK).text(n);
});
svg.append("line").attr("x1", 72).attr("x2", 1219).attr("y1", 162).attr("y2", 162).attr("stroke", INK).attr("stroke-width", 1.6);

// ---------- axis titles ----------
const lt = svg.append("text").attr("transform", "translate(35,305) rotate(-90)").attr("text-anchor", "middle")
  .attr("font-size", 25).attr("fill", "#6f7d7c");
lt.append("tspan").text("δ");
lt.append("tspan").attr("font-size", 15).attr("dy", -9).text("18");
lt.append("tspan").attr("dy", 9).text("O (‰ VPDB)");
const rt = svg.append("text").attr("transform", "translate(1284,307) rotate(-90)").attr("text-anchor", "middle")
  .attr("font-size", 28).attr("fill", INK);
rt.append("tspan").text("Δ");
rt.append("tspan").attr("font-size", 17).attr("dy", 7).text("pyr");
rt.append("tspan").attr("dy", -7).text(" (‰)");
svg.append("text").attr("x", 456).attr("y", 500).attr("text-anchor", "middle").attr("font-size", 21).attr("fill", INK).text("ka");
svg.append("text").attr("x", 836).attr("y", 513).attr("text-anchor", "middle").attr("font-size", 25).attr("fill", INK).text("Age");
svg.append("text").attr("x", 1037).attr("y", 499).attr("text-anchor", "middle").attr("font-size", 21).attr("fill", INK).text("Ma");

// ---------- hiatus label ----------
[["Marshall", 213], ["Paraconformity", 240], ["(hiatus)", 266]].forEach(([t, y]) =>
  svg.append("text").attr("x", 1073).attr("y", y).attr("text-anchor", "middle").attr("font-size", 18)
    .attr("font-weight", "bold").attr("fill", "#2a2a2a").text(t));

// ---------- in-plot legend ----------
[["#ed1c24", 988], ["#c8202a", 1001]].forEach(([c, x]) =>
  svg.append("circle").attr("cx", x).attr("cy", 394).attr("r", 4).attr("fill", c));
svg.append("circle").attr("cx", 1015).attr("cy", 394).attr("r", 4).attr("fill", "#fff").attr("stroke", "#7a1216").attr("stroke-width", 1.2);
svg.append("text").attr("x", 1027).attr("y", 400).attr("font-size", 18).attr("fill", INK).text("Onshore IODP 1352");
[["#29abe2", 988], ["#1b75bc", 1001]].forEach(([c, x]) =>
  svg.append("path").attr("d", d3.symbol(d3.symbolSquare, 40)).attr("transform", `translate(${x},428) rotate(45)`).attr("fill", c));
svg.append("path").attr("d", d3.symbol(d3.symbolSquare, 36)).attr("transform", "translate(1014,428) rotate(45)")
  .attr("fill", "#fff").attr("stroke", "#111").attr("stroke-width", 1.2);
svg.append("text").attr("x", 1029).attr("y", 435).attr("font-size", 18).attr("fill", INK).text("Offshore ODP 1123");

// ---------- bottom legend ----------
svg.append("line").attr("x1", 539).attr("x2", 547).attr("y1", 547).attr("y2", 547).attr("stroke", LINE).attr("stroke-width", 2);
const l1 = svg.append("text").attr("x", 555).attr("y", 553).attr("font-size", 17).attr("fill", INK);
l1.append("tspan").text("δ");
l1.append("tspan").attr("font-size", 10).attr("dy", -7).text("18");
l1.append("tspan").attr("dy", 7).text("O (");
l1.append("tspan").attr("font-style", "italic").text("34");
l1.append("tspan").text(")");
svg.append("circle").attr("cx", 663).attr("cy", 547).attr("r", 2.5).attr("fill", TEAL);
const l2 = svg.append("text").attr("x", 672).attr("y", 553).attr("font-size", 17).attr("fill", INK);
l2.append("tspan").text("δ");
l2.append("tspan").attr("font-size", 10).attr("dy", -7).text("18");
l2.append("tspan").attr("dy", 7).text("O (");
l2.append("tspan").attr("font-style", "italic").text("40");
l2.append("tspan").text(")");

// ---------- top annotations ----------
const ann = svg.append("g").attr("font-size", 15.5).attr("fill", INK).attr("text-anchor", "middle");
// blue wedge: current velocity / temperature trend
[[70, 102], [166, 229]].forEach(([a, b]) =>
  svg.append("line").attr("x1", a).attr("x2", b).attr("y1", 38).attr("y2", 38).attr("stroke", "#6ccff6").attr("stroke-width", 1.3));
svg.append("path").attr("d", "M326,37.4 L985,32.6 A5.4,5.4 0 0 1 985,43.4 L326,38.6 Z").attr("fill", "url(#bluew)");
// red wedge: shelf architecture
svg.append("path").attr("d", "M70,106.5 L618,112.4 L618,113.6 L70,119.5 A6.5,6.5 0 0 1 70,106.5 Z").attr("fill", "url(#redw)");
[[621, 637, 1], [650, 663, 0.9], [700, 711, 0.6], [726, 760, 0.7], [769, 786, 1], [819, 829, 1], [845, 875, 1], [888, 905, 0.6], [940, 948, 0.8], [952, 978, 1]]
  .forEach(([a, b, o]) => svg.append("line").attr("x1", a).attr("x2", b).attr("y1", 110).attr("y2", 110)
    .attr("stroke", "#ed1c24").attr("stroke-opacity", o).attr("stroke-width", 1.6));
// tasman gateway dashes
[[1147, 1157], [1165, 1183], [1191, 1201]].forEach(([a, b]) =>
  svg.append("line").attr("x1", a).attr("x2", b).attr("y1", 73).attr("y2", 73).attr("stroke", INK).attr("stroke-width", 2));

[["Current velocity decreases,", 322, 28], ["reworking intensity decreases", 322, 56],
 ["Prograding shelf", 322, 101], ["highly modulated by sea-level changes", 322, 130],
 ["Temperature decreases,", 829, 25],
 ["Shelf sediment drift complex", 826, 99], ["moderately modulated by sea-level changes", 826, 128],
 ["Proto-Antarctic", 1070, 25], ["Circumpolar Current", 1070, 52], ["&", 1070, 78],
 ["Initiation of Deep Western", 1070, 105], ["Boundary Current", 1070, 132]]
  .forEach(([t, x, y]) => ann.append("text").attr("x", x).attr("y", y).text(t));
const td = ann.append("text").attr("x", 829).attr("y", 55);
td.append("tspan").text("temperature-dependent Δ");
td.append("tspan").attr("font-size", 8).attr("dy", 4).text("SO");
td.append("tspan").attr("font-size", 6).attr("dy", 2).text("4");
td.append("tspan").attr("font-size", 8).attr("dy", -2).text("-H");
td.append("tspan").attr("font-size", 6).attr("dy", 2).text("2");
td.append("tspan").attr("font-size", 8).attr("dy", -2).text("S");
td.append("tspan").attr("dy", -4).text(" increases");
ann.append("text").attr("x", 1151).attr("y", 63).attr("text-anchor", "start").text("Opening of");
ann.append("text").attr("x", 1150).attr("y", 92).attr("text-anchor", "start").text("Tasman Gateway");
</script>
</body>
</html>
